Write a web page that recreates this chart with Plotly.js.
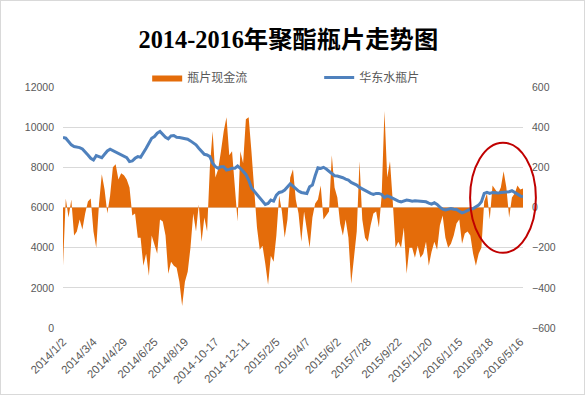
<!DOCTYPE html>
<html><head><meta charset="utf-8">
<script src="https://cdn.plot.ly/plotly-3.0.1.min.js"></script>
<style>
html,body{margin:0;padding:0;background:#fff}
#chart{width:585px;height:395px}
#frame{position:absolute;left:0;top:0;width:585px;height:395px;box-sizing:border-box;border:1px solid #D9D9D9;pointer-events:none}
</style>
</head><body><div id="chart"></div><div id="frame"></div>
<script>
// Category labels: one every 11 samples (the source labels every 40 trading days)
const tickSamples = [0, 11, 22, 33, 44, 55, 66, 77, 88, 99, 110, 121, 132, 143, 154, 165];
const tickLabels = ["2014/1/2", "2014/3/4", "2014/4/29", "2014/6/25", "2014/8/19", "2014-10-17", "2014-12-11",
  "2015/2/5", "2015/4/7", "2015/6/2", "2015/7/28", "2015/9/22", "2015/11/20", "2016/1/15", "2016/3/18", "2016/5/16"];

// 瓶片现金流 (right axis), sampled evenly along the period
const cashFlow = [
  -290, 45, -50, 40, -140, -120, -60, -110, -30, 30, 45, -120, -200, 20, 165, 90, -30, 60, 200, 215, 140, 170, 160, 140, 100, -40, -30, -150,
  -150, -290, -230, -340, -140, -190, -230, -60, -70, -140, -330, -270, -290, -300, -370, -490, -370, -320, -200, -30, -120, 15, -170, -50, -120, 200, 380, 150, 190,
  280, 380, 450, 260, 280, 120, -70, 280, 220, 440, 450, 280, 100, -100, -210, -190, -280, -385, -240, -270, -140, 60, -20, -150, -60, 150, 190, 40,
  -30, -170, -20, -100, -200, -50, 20, 40, 110, -60, -40, -20, 260, 100, 50, -80, -140, -60, -150, -380, -250, -120, 230, -60, -150, -170, -90, -30,
  -20, -100, 60, 480, 150, 230, 30, -200, -170, -200, -100, -330, -200, -200, -250, -190, -250, -230, -170, -290, -220, -170, -210, -90, -40, -150, -200, -180,
  -140, -80, -60, -180, -130, -120, -140, -230, -290, -230, -200, 30, 70, -60, 110, 90, 70, 100, 180, 100, -50, 50, 70, 110, 90, 95
];

// 华东水瓶片 (left axis), same sampling
const eastChinaPrice = [
  9483, 9450, 9283, 9117, 9033, 9017, 8983, 8917, 8783, 8617, 8450, 8367, 8583, 8533, 8483, 8650, 8817, 8900, 8833, 8750, 8683, 8650, 8583, 8483, 8283, 8317, 8450, 8533,
  8500, 8700, 8950, 9200, 9450, 9533, 9700, 9783, 9617, 9500, 9417, 9567, 9583, 9500, 9483, 9450, 9450, 9400, 9317, 9200, 9117, 8950, 8817, 8650, 8617, 8533, 8200, 8033, 7950,
  8033, 8033, 7867, 7900, 7950, 7950, 8067, 7950, 7817, 7650, 7367, 6983, 6817, 6650, 6450, 6283, 6150, 6200, 6367, 6317, 6617, 6750, 6783, 6867, 7033, 7183, 7067, 6917,
  6817, 6750, 6733, 6700, 7033, 7117, 7583, 7983, 7950, 8000, 7917, 7817, 7700, 7583, 7567, 7533, 7483, 7417, 7367, 7250, 7200, 7117, 7000, 6917, 6850, 6783, 6700, 6650,
  6700, 6700, 6650, 6500, 6583, 6533, 6450, 6383, 6317, 6283, 6317, 6367, 6350, 6317, 6333, 6317, 6317, 6317, 6283, 6217, 6167, 6233, 6150, 6017, 5917, 5883, 5900, 5950,
  5917, 5900, 5817, 5733, 5783, 5867, 5917, 5950, 6017, 6117, 6283, 6700, 6750, 6700, 6750, 6733, 6717, 6750, 6750, 6750, 6783, 6833, 6750, 6650, 6583, 6533
];

const samples = cashFlow.map((_, i) => i);

const gray = '#595959';
const tickFont = {family: 'Liberation Sans, Arial, sans-serif', size: 10.5, color: gray};

const traces = [
  {
    type: 'scatter', mode: 'lines', name: '瓶片现金流',
    x: samples, y: cashFlow, yaxis: 'y',
    fill: 'tozeroy', fillcolor: '#E46C0A',
    line: {width: 0, color: '#E46C0A'},
    hoverinfo: 'skip'
  },
  {
    type: 'scatter', mode: 'lines', name: '华东水瓶片',
    x: samples, y: eastChinaPrice, yaxis: 'y2',
    line: {width: 3, color: '#4F81BD'},
    hoverinfo: 'skip'
  }
];

const layout = {
  width: 585, height: 395,
  margin: {l: 63, r: 62, t: 87, b: 67},
  paper_bgcolor: '#fff', plot_bgcolor: '#fff',
  showlegend: true,
  title: {
    text: '2014-2016年聚酯瓶片走势图',
    font: {family: 'Liberation Serif, Noto Sans CJK SC, serif', size: 24.3, color: '#000', weight: 'bold'},
    x: 0.493, xref: 'container', xanchor: 'center',
    y: 0.899, yref: 'container', yanchor: 'middle'
  },
  legend: {
    orientation: 'h', x: 0.183, xanchor: 'left', y: 1.039, yanchor: 'middle',
    font: {family: 'Noto Sans CJK SC, sans-serif', size: 12, color: gray},
    itemwidth: 30, entrywidth: 127, bgcolor: 'rgba(0,0,0,0)'
  },
  xaxis: {
    range: [0, cashFlow.length - 1], tickmode: 'array', tickvals: tickSamples, ticktext: tickLabels,
    tickangle: -45, tickfont: {family: 'Liberation Sans, Arial, sans-serif', size: 11.5, color: gray},
    showgrid: false, zeroline: false, showline: false, ticks: '', ticklabelstandoff: 4
  },
  yaxis: {
    side: 'right', range: [-600, 600], dtick: 200, tickfont: tickFont, tickformat: 'd',
    showgrid: true, gridcolor: '#D9D9D9', gridwidth: 1, zeroline: false, showline: false,
    ticklabelstandoff: 8
  },
  yaxis2: {
    side: 'left', overlaying: 'y', range: [0, 12000], dtick: 2000, tickfont: tickFont, tickformat: 'd',
    showgrid: false, zeroline: false, showline: false, ticklabelstandoff: 8
  },
  shapes: [{
    type: 'circle', xref: 'paper', yref: 'paper',
    x0: 0.885, x1: 1.028, y0: 0.312, y1: 0.769,
    line: {color: '#C00000', width: 2}, fillcolor: 'rgba(0,0,0,0)', layer: 'above'
  }]
};

Plotly.newPlot('chart', traces, layout, {staticPlot: true, displayModeBar: false});
</script>
</body></html>
